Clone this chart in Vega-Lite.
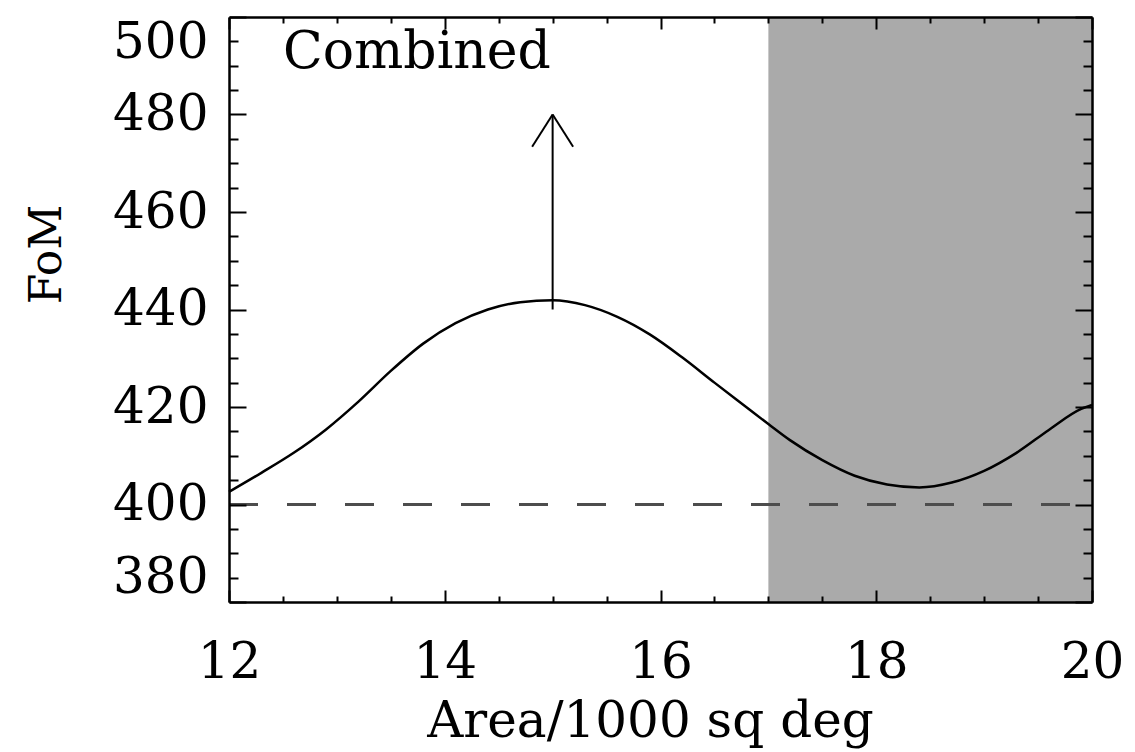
{
  "$schema": "https://vega.github.io/schema/vega-lite/v6.json",
  "autosize": "none",
  "width": 863,
  "height": 585,
  "padding": {"left": 229, "top": 17, "right": 43, "bottom": 150},
  "background": "white",
  "config": {
    "view": {"stroke": null},
    "axis": {"grid": false, "labelFont": "DejaVu Serif", "titleFont": "DejaVu Serif", "labelColor": "black", "titleColor": "black", "titleFontWeight": "normal", "tickColor": "black", "domainColor": "black"}
  },
  "datasets": {
    "curve": [
      {"area": 12.0, "fom": 402.6},
      {"area": 12.3, "fom": 406.5},
      {"area": 12.6, "fom": 410.6},
      {"area": 12.9, "fom": 415.4},
      {"area": 13.2, "fom": 421.1},
      {"area": 13.5, "fom": 427.4},
      {"area": 13.8, "fom": 433.0},
      {"area": 14.1, "fom": 437.2},
      {"area": 14.4, "fom": 440.0},
      {"area": 14.7, "fom": 441.5},
      {"area": 15.0, "fom": 441.9},
      {"area": 15.3, "fom": 440.9},
      {"area": 15.6, "fom": 438.5},
      {"area": 15.9, "fom": 434.9},
      {"area": 16.2, "fom": 430.2},
      {"area": 16.5, "fom": 425.0},
      {"area": 16.8, "fom": 419.9},
      {"area": 17.0, "fom": 416.5},
      {"area": 17.2, "fom": 413.2},
      {"area": 17.5, "fom": 409.1},
      {"area": 17.8, "fom": 405.9},
      {"area": 18.1, "fom": 404.1},
      {"area": 18.4, "fom": 403.5},
      {"area": 18.7, "fom": 404.5},
      {"area": 19.0, "fom": 406.9},
      {"area": 19.3, "fom": 410.6},
      {"area": 19.6, "fom": 415.3},
      {"area": 19.9, "fom": 419.6},
      {"area": 20.0, "fom": 420.4}
    ],
    "arrow": [
      {"xa": 15.0, "ya": 440.0, "xb": 15.0, "yb": 480.0},
      {"xa": 14.81, "ya": 473.4, "xb": 15.0, "yb": 480.0},
      {"xa": 15.19, "ya": 473.4, "xb": 15.0, "yb": 480.0}
    ]
  },
  "layer": [
    {
      "data": {"values": [{"x0": 17, "x1": 20, "y0": 380, "y1": 500}]},
      "mark": {"type": "rect", "color": "#aaaaaa"},
      "encoding": {
        "x": {"field": "x0", "type": "quantitative", "scale": {"domain": [12, 20], "nice": false, "zero": false},
          "axis": {"orient": "bottom", "values": [12, 14, 16, 18, 20], "ticks": false, "domain": false, "labelFontSize": 50, "labelBaseline": "alphabetic", "labelPadding": 75, "labelFlush": false, "labelOverlap": false, "format": "d",
            "title": "Area/1000 sq deg", "titleFontSize": 50, "titleX": 421, "titleY": 134, "titleBaseline": "alphabetic", "titleAlign": "center", "titleAngle": 0}},
        "x2": {"field": "x1"},
        "y": {"field": "y0", "type": "quantitative", "scale": {"domain": [380, 500], "nice": false, "zero": false},
          "axis": {"orient": "left", "values": [380, 400, 420, 440, 460, 480, 500], "ticks": false, "domain": false, "labelFontSize": 50, "labelPadding": 21, "labelAlign": "right", "labelFlush": true, "labelFlushOffset": 0, "labelOverlap": false, "format": "d",
            "title": "FoM", "titleFontSize": 44, "titleX": -182, "titleY": 237, "titleAngle": -90, "titleAlign": "center", "titleBaseline": "middle"}},
        "y2": {"field": "y1"}
      }
    },
    {
      "data": {"name": "curve"},
      "mark": {"type": "line", "color": "black", "strokeWidth": 2.5, "interpolate": "monotone"},
      "encoding": {
        "x": {"field": "area", "type": "quantitative",
          "axis": {"orient": "bottom", "values": [12, 14, 16, 18, 20], "labels": false, "domain": true, "domainWidth": 2.5, "tickSize": -12, "tickWidth": 2, "title": null, "zindex": 1}},
        "y": {"field": "fom", "type": "quantitative",
          "axis": {"orient": "left", "values": [380, 400, 420, 440, 460, 480, 500], "labels": false, "domain": true, "domainWidth": 2.5, "tickSize": -17, "tickWidth": 2, "title": null, "zindex": 1}}
      }
    },
    {
      "data": {"values": [{"xs": 12, "xe": 20, "level": 400}]},
      "mark": {"type": "rule", "color": "#4d4d4d", "strokeWidth": 3, "strokeDash": [29, 29]},
      "encoding": {
        "x": {"field": "xs", "type": "quantitative",
          "axis": {"orient": "bottom", "values": [12.5, 13, 13.5, 14.5, 15, 15.5, 16.5, 17, 17.5, 18.5, 19, 19.5], "labels": false, "domain": false, "tickSize": -6, "tickWidth": 2, "title": null, "zindex": 1}},
        "x2": {"field": "xe"},
        "y": {"field": "level", "type": "quantitative",
          "axis": {"orient": "left", "values": [385, 390, 395, 405, 410, 415, 425, 430, 435, 445, 450, 455, 465, 470, 475, 485, 490, 495], "labels": false, "domain": false, "tickSize": -9, "tickWidth": 2, "title": null, "zindex": 1}}
      }
    },
    {
      "data": {"name": "arrow"},
      "mark": {"type": "rule", "color": "black", "strokeWidth": 2},
      "encoding": {
        "x": {"field": "xa", "type": "quantitative",
          "axis": {"orient": "top", "values": [12, 14, 16, 18, 20], "labels": false, "domain": true, "domainWidth": 2.5, "tickSize": -12, "tickWidth": 2, "title": null, "zindex": 1}},
        "x2": {"field": "xb"},
        "y": {"field": "ya", "type": "quantitative",
          "axis": {"orient": "right", "values": [380, 400, 420, 440, 460, 480, 500], "labels": false, "domain": true, "domainWidth": 2.5, "tickSize": -17, "tickWidth": 2, "title": null, "zindex": 1}},
        "y2": {"field": "yb"}
      }
    },
    {
      "data": {"values": [{"tx": 12.5, "ty": 489.6, "label": "Combined"}]},
      "mark": {"type": "text", "font": "DejaVu Serif", "fontSize": 52, "align": "left", "baseline": "alphabetic", "color": "black"},
      "encoding": {
        "x": {"field": "tx", "type": "quantitative",
          "axis": {"orient": "top", "values": [12.5, 13, 13.5, 14.5, 15, 15.5, 16.5, 17, 17.5, 18.5, 19, 19.5], "labels": false, "domain": false, "tickSize": -6, "tickWidth": 2, "title": null, "zindex": 1}},
        "y": {"field": "ty", "type": "quantitative",
          "axis": {"orient": "right", "values": [385, 390, 395, 405, 410, 415, 425, 430, 435, 445, 450, 455, 465, 470, 475, 485, 490, 495], "labels": false, "domain": false, "tickSize": -9, "tickWidth": 2, "title": null, "zindex": 1}},
        "text": {"field": "label"}
      }
    }
  ],
  "resolve": {"axis": {"x": "independent", "y": "independent"}}
}
